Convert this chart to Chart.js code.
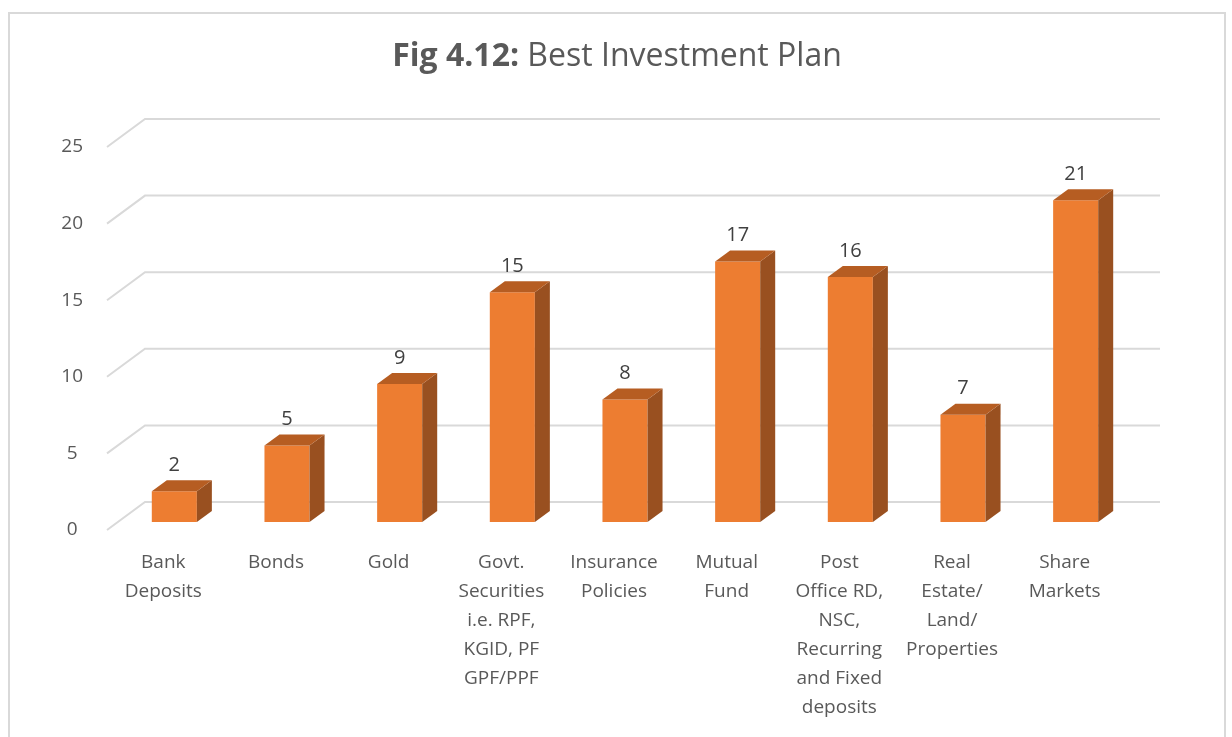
<!DOCTYPE html>
<html>
<head>
<meta charset="utf-8">
<title>Best Investment Plan</title>
<script src="https://cdn.jsdelivr.net/npm/chart.js@4/dist/chart.umd.min.js"></script>
<style>
  html, body { margin: 0; padding: 0; background: #fff; }
  canvas { display: block; }
</style>
</head>
<body>
<canvas id="investChart" width="1232" height="737"></canvas>
<script>
// Datos del gráfico
const categories = [
  ['Bank', 'Deposits'],
  ['Bonds'],
  ['Gold'],
  ['Govt.', 'Securities', 'i.e. RPF,', 'KGID, PF', 'GPF/PPF'],
  ['Insurance', 'Policies'],
  ['Mutual', 'Fund'],
  ['Post', 'Office RD,', 'NSC,', 'Recurring', 'and Fixed', 'deposits'],
  ['Real', 'Estate/', 'Land/', 'Properties'],
  ['Share', 'Markets']
];
const responses = [2, 5, 9, 15, 8, 17, 16, 7, 21];
const yTicks = [0, 5, 10, 15, 20, 25];

const FRONT = '#ED7D31';
const TOP = '#B65D22';
const SIDE = '#995020';
const GRID = '#D9D9D9';
const TEXT = '#595959';
const FONT = "'Open Sans', sans-serif";

// Profundidad de la barra y de la pared del fondo
const barDepth = { dx: 15, dy: -11 };
const wall = { dx: 38, dy: -28, shiftY: -20, frontX: 107, backX: 145, rightX: 1160 };

// Marco, título y rejilla en perspectiva
const framePlugin = {
  id: 'frame',
  beforeDraw(chart) {
    const ctx = chart.ctx;
    ctx.save();
    ctx.strokeStyle = GRID;
    ctx.lineWidth = 2;
    ctx.beginPath();
    ctx.moveTo(9, 800);
    ctx.lineTo(9, 13);
    ctx.lineTo(1225, 13);
    ctx.lineTo(1225, 800);
    ctx.stroke();

    // título con parte en negrita
    const bold = "bold 32px " + FONT;
    const normal = "32px " + FONT;
    const a = 'Fig 4.12:';
    const b = ' Best Investment Plan';
    ctx.font = bold;
    const wa = ctx.measureText(a).width;
    ctx.font = normal;
    const wb = ctx.measureText(b).width;
    const x0 = 617 - (wa + wb) / 2;
    ctx.textBaseline = 'middle';
    ctx.textAlign = 'left';
    ctx.fillStyle = TEXT;
    ctx.font = bold;
    ctx.fillText(a, x0, 57);
    ctx.font = normal;
    ctx.fillText(b, x0 + wa, 57);
    ctx.restore();
  },
  beforeDatasetsDraw(chart) {
    const ctx = chart.ctx;
    const y = chart.scales.y;
    ctx.save();
    ctx.strokeStyle = GRID;
    ctx.lineWidth = 2;
    yTicks.forEach(v => {
      const py = y.getPixelForValue(v);
      const back = py + wall.shiftY;
      ctx.beginPath();
      ctx.moveTo(wall.frontX, back - wall.dy);
      ctx.lineTo(wall.backX, back);
      ctx.lineTo(wall.rightX, back);
      ctx.stroke();
    });
    ctx.restore();
  }
};

// Caras superior y lateral de cada barra, y etiquetas de valor
const bars3dPlugin = {
  id: 'bars3d',
  afterDatasetsDraw(chart) {
    const ctx = chart.ctx;
    const meta = chart.getDatasetMeta(0);
    ctx.save();
    meta.data.forEach((bar, i) => {
      const half = bar.width / 2;
      const l = bar.x - half, r = bar.x + half;
      const top = bar.y, base = bar.base;
      const { dx, dy } = barDepth;

      ctx.fillStyle = SIDE;
      ctx.beginPath();
      ctx.moveTo(r, top);
      ctx.lineTo(r + dx, top + dy);
      ctx.lineTo(r + dx, base + dy);
      ctx.lineTo(r, base);
      ctx.closePath();
      ctx.fill();

      ctx.fillStyle = TOP;
      ctx.beginPath();
      ctx.moveTo(l, top);
      ctx.lineTo(l + dx, top + dy);
      ctx.lineTo(r + dx, top + dy);
      ctx.lineTo(r, top);
      ctx.closePath();
      ctx.fill();

      ctx.fillStyle = '#404040';
      ctx.font = "20px " + FONT;
      ctx.textAlign = 'center';
      ctx.textBaseline = 'middle';
      ctx.fillText(String(responses[i]), bar.x, top + dy - 15);
    });
    ctx.restore();
  }
};

new Chart(document.getElementById('investChart'), {
  type: 'bar',
  data: {
    labels: categories,
    datasets: [{
      data: responses,
      backgroundColor: FRONT,
      borderWidth: 0,
      categoryPercentage: 1,
      barPercentage: 0.4
    }]
  },
  options: {
    responsive: false,
    animation: false,
    layout: { padding: { top: 139, right: 100, bottom: 0, left: 0 } },
    plugins: {
      legend: { display: false },
      tooltip: { enabled: false }
    },
    scales: {
      x: {
        grid: { display: false, drawTicks: false },
        border: { display: false },
        afterFit(scale) { scale.height = 215; },
        ticks: {
          autoSkip: false,
          maxRotation: 0,
          minRotation: 0,
          padding: 26,
          labelOffset: -11,
          color: TEXT,
          font: { family: FONT, size: 19, lineHeight: 1.53 }
        }
      },
      y: {
        min: 0,
        max: 25,
        grid: { display: false, drawTicks: false },
        border: { display: false },
        afterFit(scale) { scale.width = 118; },
        afterBuildTicks(scale) { scale.ticks = yTicks.map(v => ({ value: v })); },
        ticks: {
          padding: 35,
          crossAlign: 'center',
          labelOffset: 8,
          color: TEXT,
          font: { family: FONT, size: 19 }
        }
      }
    }
  },
  plugins: [framePlugin, bars3dPlugin]
});
</script>
</body>
</html>
